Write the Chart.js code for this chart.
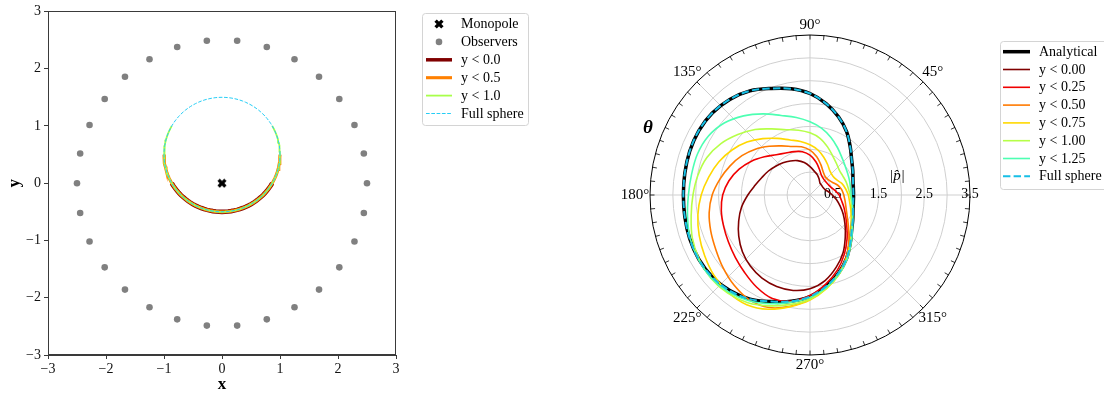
<!DOCTYPE html>
<html>
<head>
<meta charset="utf-8">
<script src="https://cdn.jsdelivr.net/npm/chart.js@4.4.1/dist/chart.umd.min.js"></script>
<style>
  html, body { margin: 0; padding: 0; background: #fff; }
  #wrap { position: relative; width: 1104px; height: 395px; overflow: hidden; }
  #left { position: absolute; left: 0; top: 0; width: 560px; height: 395px; }
  #right { position: absolute; left: 560px; top: 0; width: 544px; height: 395px; }
</style>
</head>
<body>
<div id="wrap">
  <canvas id="left" width="560" height="395"></canvas>
  <canvas id="right" width="544" height="395"></canvas>
</div>
<script>
const FONT = '"Liberation Serif", "DejaVu Serif", serif';

// ---------- left panel: source, observers and integration surface ----------
const monopoleXY = [0, 0];
const observerDeg = [0, 12, 24, 36, 48, 60, 72, 84, 96, 108, 120, 132, 144, 156, 168,
                     180, 192, 204, 216, 228, 240, 252, 264, 276, 288, 300, 312, 324, 336, 348];
const observerRadius = 2.5;
const sphereCentre = [0, 0.5];
const sphereRadius = 1;
const cutLevels = [0.0, 0.5, 1.0];
const cutLabels = ['y < 0.0', 'y < 0.5', 'y < 1.0'];
const cutColors = ['#800000', '#ff8000', '#a8ff4a'];
const cutWidths = [4.6, 3.1, 1.8];
const xyTicks = [-3, -2, -1, 0, 1, 2, 3];

// ---------- right panel: directivity |p| versus theta ----------
const thetaDeg = [0, 10, 20, 30, 40, 50, 60, 70, 80, 90, 100, 110, 120, 130, 140, 150, 160, 170,
                  180, 190, 200, 210, 220, 230, 240, 250, 260, 270, 280, 290, 300, 310, 320, 330, 340, 350];
const analytical = [0.95, 0.96, 1.00, 1.08, 1.19, 1.37, 1.60, 1.82, 2.03, 2.22, 2.36, 2.48, 2.63, 2.73, 2.79, 2.81, 2.80, 2.78,
                    2.77, 2.78, 2.80, 2.81, 2.79, 2.73, 2.63, 2.48, 2.36, 2.22, 2.03, 1.82, 1.60, 1.37, 1.19, 1.08, 1.00, 0.96];
const pY000 = [0.49, 0.41, 0.35, 0.33, 0.33, 0.34, 0.40, 0.47, 0.53, 0.62, 0.72, 0.80, 0.86, 0.92, 0.98, 1.05, 1.12, 1.22,
               1.36, 1.52, 1.66, 1.80, 1.93, 2.03, 2.10, 2.13, 2.12, 2.05, 1.90, 1.68, 1.45, 1.20, 1.00, 0.84, 0.70, 0.59];
const pY025 = [0.64, 0.56, 0.49, 0.46, 0.45, 0.46, 0.50, 0.60, 0.74, 0.87, 0.96, 1.01, 1.06, 1.15, 1.30, 1.48, 1.65, 1.80,
               1.91, 1.97, 2.01, 2.06, 2.13, 2.22, 2.33, 2.41, 2.36, 2.20, 1.98, 1.75, 1.50, 1.26, 1.05, 0.90, 0.79, 0.70];
const pY050 = [0.74, 0.70, 0.64, 0.56, 0.52, 0.52, 0.58, 0.70, 0.85, 0.98, 1.07, 1.13, 1.24, 1.39, 1.56, 1.72, 1.86, 2.00,
               2.14, 2.24, 2.31, 2.38, 2.48, 2.58, 2.65, 2.62, 2.47, 2.28, 2.06, 1.82, 1.58, 1.32, 1.10, 0.94, 0.84, 0.78];
const pY075 = [0.84, 0.79, 0.74, 0.67, 0.65, 0.68, 0.77, 0.88, 1.00, 1.10, 1.19, 1.28, 1.43, 1.61, 1.80, 1.97, 2.12, 2.25,
               2.38, 2.49, 2.58, 2.66, 2.74, 2.78, 2.77, 2.66, 2.48, 2.30, 2.08, 1.85, 1.60, 1.36, 1.17, 1.04, 0.95, 0.88];
const pY100 = [0.88, 0.85, 0.84, 0.83, 0.84, 0.90, 0.99, 1.12, 1.26, 1.36, 1.44, 1.52, 1.67, 1.87, 2.06, 2.25, 2.40, 2.49,
               2.56, 2.64, 2.74, 2.80, 2.83, 2.80, 2.72, 2.58, 2.43, 2.28, 2.07, 1.85, 1.62, 1.39, 1.20, 1.07, 0.98, 0.92];
const pY125 = [0.90, 0.90, 0.92, 0.95, 1.00, 1.08, 1.20, 1.34, 1.48, 1.60, 1.72, 1.85, 2.05, 2.26, 2.45, 2.57, 2.62, 2.63,
               2.66, 2.72, 2.79, 2.82, 2.82, 2.77, 2.67, 2.53, 2.38, 2.24, 2.05, 1.84, 1.62, 1.39, 1.21, 1.08, 1.00, 0.94];
const fullSphere = [0.95, 0.96, 1.00, 1.08, 1.19, 1.37, 1.60, 1.82, 2.03, 2.22, 2.36, 2.48, 2.63, 2.73, 2.79, 2.81, 2.80, 2.78,
                    2.77, 2.78, 2.80, 2.81, 2.79, 2.73, 2.63, 2.48, 2.36, 2.22, 2.03, 1.82, 1.60, 1.37, 1.19, 1.08, 1.00, 0.96];
const partialLabels = ['y < 0.00', 'y < 0.25', 'y < 0.50', 'y < 0.75', 'y < 1.00', 'y < 1.25'];
const partialColors = ['#800000', '#f00000', '#ff7a00', '#ffd800', '#b6ff48', '#4dffb2'];
const ringValues = [0.5, 1.0, 1.5, 2.0, 2.5, 3.0, 3.5];
const ringLabels = ['0.5', '1.5', '2.5', '3.5'];
const spokeDeg = [0, 45, 90, 135, 180, 225, 270, 315];
const spokeLabels = ['', '45°', '90°', '135°', '180°', '225°', '270°', '315°'];

// ---------- helpers ----------
const rad = d => d * Math.PI / 180;
const minus = v => (v < 0 ? '\u2212' + Math.abs(v) : String(v));

function crossMarker(size, color) {
  const c = document.createElement('canvas');
  c.width = size; c.height = size;
  const g = c.getContext('2d');
  g.strokeStyle = color;
  g.lineWidth = size * 0.34;
  g.lineCap = 'butt';
  const m = size * 0.16, n = size - m;
  g.beginPath();
  g.moveTo(m, m); g.lineTo(n, n);
  g.moveTo(n, m); g.lineTo(m, n);
  g.stroke();
  return c;
}

function sphereArc(fromDeg, toDeg) {
  const pts = [];
  const step = (toDeg - fromDeg) / Math.max(1, Math.round((toDeg - fromDeg) / 3));
  for (let d = fromDeg; d <= toDeg + 1e-9; d += step) {
    pts.push({ x: sphereCentre[0] + sphereRadius * Math.cos(rad(d)),
               y: sphereCentre[1] + sphereRadius * Math.sin(rad(d)) });
  }
  return pts;
}

function polarPoints(r) {
  const pts = thetaDeg.map((d, i) => ({ x: r[i] * Math.cos(rad(d)), y: r[i] * Math.sin(rad(d)) }));
  pts.push({ x: pts[0].x, y: pts[0].y });
  return pts;
}

function roundRect(ctx, x, y, w, h, r) {
  ctx.beginPath();
  ctx.moveTo(x + r, y);
  ctx.lineTo(x + w - r, y); ctx.arcTo(x + w, y, x + w, y + r, r);
  ctx.lineTo(x + w, y + h - r); ctx.arcTo(x + w, y + h, x + w - r, y + h, r);
  ctx.lineTo(x + r, y + h); ctx.arcTo(x, y + h, x, y + h - r, r);
  ctx.lineTo(x, y + r); ctx.arcTo(x, y, x + r, y, r);
  ctx.closePath();
}

// framed legend listing the datasets in their array order
function boxLegend(box) {
  return {
    id: 'boxLegend',
    afterDraw(chart) {
      const ctx = chart.ctx;
      ctx.save();
      roundRect(ctx, box.x + 0.5, box.y + 0.5, box.w, box.h, 3);
      ctx.fillStyle = 'rgba(255,255,255,0.85)';
      ctx.fill();
      ctx.strokeStyle = '#d4d4d4';
      ctx.lineWidth = 1;
      ctx.stroke();
      ctx.font = '14px ' + FONT;
      ctx.textBaseline = 'middle';
      ctx.textAlign = 'left';
      chart.data.datasets.forEach((ds, i) => {
        const yy = box.first + i * box.step;
        if (ds.showLine === false) {
          const mx = (box.hx0 + box.hx1) / 2;
          if (ds.pointStyle instanceof HTMLCanvasElement) {
            ctx.drawImage(ds.pointStyle, mx - ds.pointStyle.width / 2, yy - ds.pointStyle.height / 2);
          } else {
            ctx.beginPath();
            ctx.arc(mx, yy, ds.pointRadius, 0, 2 * Math.PI);
            ctx.fillStyle = ds.backgroundColor;
            ctx.fill();
          }
        } else {
          ctx.beginPath();
          ctx.setLineDash(ds.borderDash || []);
          ctx.strokeStyle = ds.borderColor;
          ctx.lineWidth = Math.min(ds.borderWidth, 3.5);
          ctx.moveTo(box.hx0, yy);
          ctx.lineTo(box.hx1, yy);
          ctx.stroke();
          ctx.setLineDash([]);
        }
        ctx.fillStyle = '#000';
        ctx.fillText(ds.label, box.tx, yy + 0.5);
      });
      ctx.restore();
    }
  };
}

// ---------- left chart ----------
const crossImg = crossMarker(10, '#000');
const observers = observerDeg.map(d => ({ x: observerRadius * Math.cos(rad(d)), y: observerRadius * Math.sin(rad(d)) }));

const cutSets = cutLevels.map((c, i) => {
  const s = Math.asin((c - sphereCentre[1]) / sphereRadius) * 180 / Math.PI;
  return {
    label: cutLabels[i],
    data: sphereArc(180 - s, 360 + s),
    showLine: true, pointRadius: 0, tension: 0,
    borderColor: cutColors[i], borderWidth: cutWidths[i],
    order: 6 - i
  };
});

const frame = {
  id: 'frame',
  afterDatasetsDraw(chart) {
    const { ctx, chartArea: a } = chart;
    ctx.save();
    ctx.strokeStyle = '#3a3a3a';
    ctx.lineWidth = 1;
    ctx.strokeRect(Math.round(a.left) + 0.5, Math.round(a.top) + 0.5,
                   Math.round(a.right - a.left) - 1, Math.round(a.bottom - a.top) - 1);
    ctx.restore();
  }
};

new Chart(document.getElementById('left'), {
  type: 'scatter',
  data: {
    datasets: [
      { label: 'Monopole', data: [{ x: monopoleXY[0], y: monopoleXY[1] }], showLine: false,
        pointStyle: crossImg, pointRadius: 5, order: 0 },
      { label: 'Observers', data: observers, showLine: false, pointStyle: 'circle',
        pointRadius: 3.3, backgroundColor: '#808080', borderWidth: 0, order: 1 },
      ...cutSets,
      { label: 'Full sphere', data: sphereArc(0, 360), showLine: true, pointRadius: 0, tension: 0,
        borderColor: '#26cdf5', borderWidth: 1, borderDash: [3.7, 1.6], order: 2 }
    ]
  },
  options: {
    responsive: false, animation: false, events: [],
    layout: { padding: { top: 7, right: 164, left: 0, bottom: 0 } },
    plugins: { legend: { display: false }, tooltip: { enabled: false } },
    scales: {
      x: {
        type: 'linear', min: -3, max: 3,
        afterBuildTicks: s => { s.ticks = xyTicks.map(v => ({ value: v })); },
        afterFit: s => { s.height = 40; },
        ticks: { callback: v => minus(v), color: '#111', padding: 2, maxRotation: 0,
                 font: { family: FONT, size: 14 } },
        grid: { drawOnChartArea: false, drawTicks: true, tickLength: 4, tickColor: '#3a3a3a' },
        border: { display: true, color: '#3a3a3a' },
        title: { display: true, text: 'x', color: '#000', padding: { top: 0, bottom: 0 },
                 font: { family: FONT, size: 17, weight: 'bold' } }
      },
      y: {
        type: 'linear', min: -3, max: 3,
        afterBuildTicks: s => { s.ticks = xyTicks.map(v => ({ value: v })); },
        afterFit: s => { s.width = 48; },
        ticks: { callback: v => minus(v), color: '#111', padding: 3,
                 font: { family: FONT, size: 14 } },
        grid: { drawOnChartArea: false, drawTicks: true, tickLength: 4, tickColor: '#3a3a3a' },
        border: { display: true, color: '#3a3a3a' },
        title: { display: true, text: 'y', color: '#000', padding: { top: 4, bottom: 0 },
                 font: { family: FONT, size: 17, weight: 'bold' } }
      }
    }
  },
  plugins: [frame, boxLegend({ x: 422, y: 13, w: 106, h: 112, first: 24, step: 17.9,
                               hx0: 426, hx1: 452, tx: 461 })]
});

// ---------- right chart (polar axes drawn on a square cartesian area) ----------
const polarFrame = {
  id: 'polarFrame',
  beforeDatasetsDraw(chart) {
    const { ctx, scales: { x, y } } = chart;
    const cx = x.getPixelForValue(0), cy = y.getPixelForValue(0);
    const unit = x.getPixelForValue(1) - cx;
    const R = ringValues[ringValues.length - 1] * unit;
    ctx.save();
    ctx.strokeStyle = '#cfcfcf';
    ctx.lineWidth = 1;
    ringValues.slice(0, -1).forEach(v => {
      ctx.beginPath(); ctx.arc(cx, cy, v * unit, 0, 2 * Math.PI); ctx.stroke();
    });
    spokeDeg.forEach(d => {
      ctx.beginPath();
      ctx.moveTo(cx, cy);
      ctx.lineTo(cx + R * Math.cos(rad(d)), cy - R * Math.sin(rad(d)));
      ctx.stroke();
    });
    ctx.fillStyle = '#000';
    ctx.font = '14px ' + FONT;
    ctx.textAlign = 'center';
    ctx.textBaseline = 'middle';
    ringLabels.forEach(t => ctx.fillText(t, x.getPixelForValue(parseFloat(t)), cy - 1));
    ctx.restore();
  },
  afterDatasetsDraw(chart) {
    const { ctx, scales: { x, y } } = chart;
    const cx = x.getPixelForValue(0), cy = y.getPixelForValue(0);
    const unit = x.getPixelForValue(1) - cx;
    const R = ringValues[ringValues.length - 1] * unit;
    ctx.save();
    ctx.strokeStyle = '#000';
    ctx.lineWidth = 1;
    ctx.beginPath(); ctx.arc(cx, cy, R, 0, 2 * Math.PI); ctx.stroke();
    ctx.lineWidth = 0.8;
    ctx.beginPath();
    for (let d = 0; d < 360; d += 5) {
      const c = Math.cos(rad(d)), s = Math.sin(rad(d));
      ctx.moveTo(cx + R * c, cy - R * s);
      ctx.lineTo(cx + (R - 4.5) * c, cy - (R - 4.5) * s);
    }
    ctx.stroke();
    ctx.fillStyle = '#000';
    ctx.font = '15px ' + FONT;
    ctx.textAlign = 'center';
    ctx.textBaseline = 'middle';
    spokeDeg.forEach((d, i) => {
      const c = Math.cos(rad(d)), s = Math.sin(rad(d));
      const off = R + 10 + 5 * Math.abs(c);
      ctx.fillText(spokeLabels[i], cx + off * c, cy - off * s);
    });
    ctx.font = 'italic bold 19px ' + FONT;
    ctx.fillText('\u03b8', cx - R - 2, cy - 67);
    ctx.font = 'italic 15px ' + FONT;
    ctx.fillText('|p\u0302|', cx + 87, cy - 19);
    ctx.restore();
  }
};

const partialSets = [pY000, pY025, pY050, pY075, pY100, pY125].map((r, i) => ({
  label: partialLabels[i], data: polarPoints(r), showLine: true, pointRadius: 0, tension: 0.35,
  borderColor: partialColors[i], borderWidth: 1.6, order: 8 - i
}));

new Chart(document.getElementById('right'), {
  type: 'scatter',
  data: {
    datasets: [
      { label: 'Analytical', data: polarPoints(analytical), showLine: true, pointRadius: 0, tension: 0.35,
        borderColor: '#000', borderWidth: 3.5, order: 9 },
      ...partialSets,
      { label: 'Full sphere', data: polarPoints(fullSphere), showLine: true, pointRadius: 0, tension: 0.35,
        borderColor: '#17bfe6', borderWidth: 2, borderDash: [7.4, 3.2], order: 0 }
    ]
  },
  options: {
    responsive: false, animation: false, events: [],
    layout: { padding: { left: 90, right: 134, top: 35, bottom: 40 } },
    plugins: { legend: { display: false }, tooltip: { enabled: false } },
    scales: {
      x: { type: 'linear', min: -3.5, max: 3.5, display: false },
      y: { type: 'linear', min: -3.5, max: 3.5, display: false }
    }
  },
  plugins: [polarFrame, boxLegend({ x: 440, y: 41, w: 120, h: 148, first: 51.7, step: 17.8,
                                    hx0: 443, hx1: 470, tx: 479 })]
});
</script>
</body>
</html>
